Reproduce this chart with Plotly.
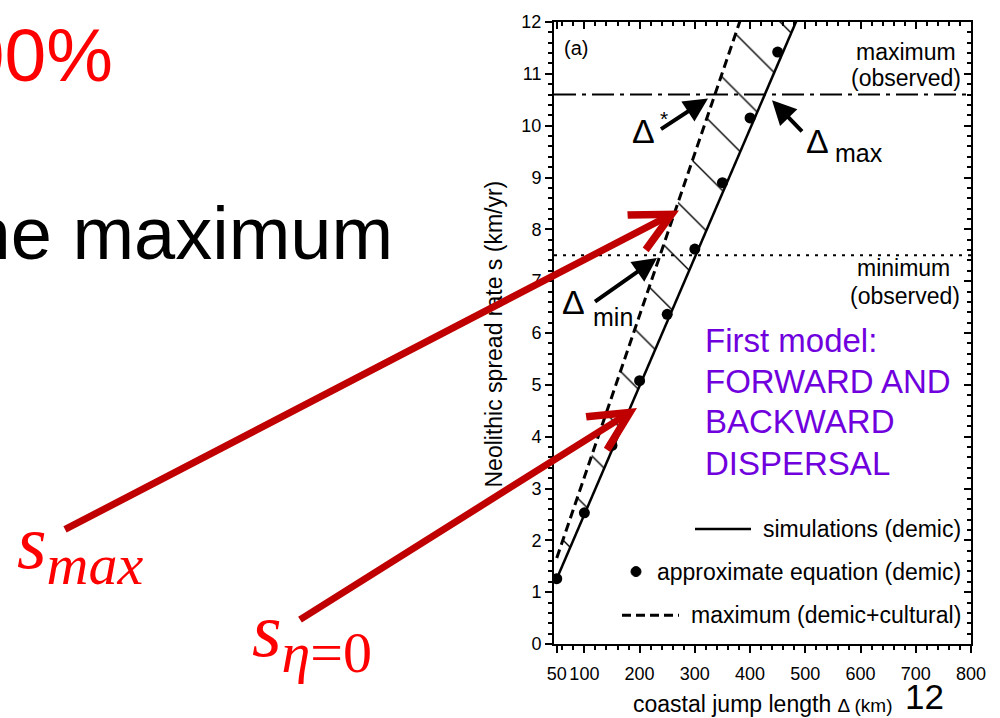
import plotly.graph_objects as go

# ---------------- data ----------------
sim_x = [50, 100, 150, 200, 250, 300, 350, 400, 450, 500]
sim_y = [1.26, 2.50, 3.74, 4.98, 6.22, 7.46, 8.70, 9.94, 11.18, 12.42]

approx_x = [50, 100, 150, 200, 250, 300, 350, 400, 450]
approx_y = [1.26, 2.53, 3.83, 5.08, 6.36, 7.62, 8.90, 10.15, 11.42]

max_x = [50, 100, 150, 200, 250, 300, 350, 400]
max_y = [1.66, 3.22, 4.78, 6.34, 7.91, 9.47, 11.03, 12.59]

obs_max = 10.6
obs_min = 7.5

x_range = [45, 800]
y_range = [0, 12]
x_tickvals = [50, 100, 200, 300, 400, 500, 600, 700, 800]
x_ticktext = ["50", "100", "200", "300", "400", "500", "600", "700", "800"]
y_tickvals = list(range(0, 13))

# ---------------- geometry helpers (pixel -> paper) ----------------
W, H = 1000, 718
L, R, T, B = 554, 971, 17, 644
def px(x):
    return (x - L) / (R - L)
def py(y):
    return (B - y) / (B - T)

FONT = "Liberation Sans, Arial, sans-serif"
SERIF = "Liberation Serif, Times New Roman, serif"
PURPLE = "#7000DD"
DARKRED = "#C00000"

fig = go.Figure()

# solid: simulations
fig.add_trace(go.Scatter(x=sim_x, y=sim_y, mode="lines",
                         line=dict(color="black", width=2.5),
                         showlegend=False, hoverinfo="skip"))
# dashed: maximum (demic+cultural), hatched region to the solid line
fig.add_trace(go.Scatter(x=max_x, y=max_y, mode="lines",
                         line=dict(color="black", width=3, dash="9px,5px"),
                         fill="tonexty", fillcolor="white",
                         fillpattern=dict(shape="\\", size=40, solidity=0.035,
                                          fgcolor="black", fgopacity=1, bgcolor="white"),
                         showlegend=False, hoverinfo="skip"))
# dots: approximate equation
fig.add_trace(go.Scatter(x=approx_x, y=approx_y, mode="markers",
                         marker=dict(color="black", size=11),
                         showlegend=False, hoverinfo="skip"))
# observed maximum / minimum
fig.add_trace(go.Scatter(x=x_range, y=[obs_max, obs_max], mode="lines",
                         line=dict(color="black", width=2, dash="22px,6px,4px,6px"),
                         showlegend=False, hoverinfo="skip"))
fig.add_trace(go.Scatter(x=x_range, y=[obs_min, obs_min], mode="lines",
                         line=dict(color="black", width=2, dash="3px,6px"),
                         showlegend=False, hoverinfo="skip"))
# invisible trace for the mirrored axes
fig.add_trace(go.Scatter(x=x_range, y=y_range, mode="markers", xaxis="x2", yaxis="y2",
                         marker=dict(opacity=0), showlegend=False, hoverinfo="skip"))

axis_common = dict(showline=True, linecolor="black", linewidth=2, showgrid=False,
                   zeroline=False, tickcolor="black", tickwidth=1.5)

fig.update_layout(
    width=W, height=H,
    margin=dict(l=L, r=W - R, t=T, b=H - B),
    paper_bgcolor="white", plot_bgcolor="white",
    font=dict(family=FONT, color="black", size=18),
    xaxis=dict(range=x_range, tickmode="array", tickvals=x_tickvals, ticktext=x_ticktext,
               ticks="outside", ticklen=7, ticklabelstandoff=5,
               tickfont=dict(size=18),
               minor=dict(tick0=0, dtick=20, ticks="outside", ticklen=4,
                          tickcolor="black", tickwidth=1.5),
               **axis_common),
    yaxis=dict(range=y_range, tickmode="array", tickvals=y_tickvals,
               ticks="outside", ticklen=7, tickfont=dict(size=18),
               minor=dict(tick0=0, dtick=0.2, ticks="outside", ticklen=4,
                          tickcolor="black", tickwidth=1.5),
               **axis_common),
    xaxis2=dict(range=x_range, overlaying="x", side="top", tickmode="array",
                tickvals=x_tickvals, showticklabels=False, ticks="inside", ticklen=7,
                minor=dict(tick0=0, dtick=20, ticks="inside", ticklen=4,
                           tickcolor="black", tickwidth=1.5),
                **axis_common),
    yaxis2=dict(range=y_range, overlaying="y", side="right", tickmode="array",
                tickvals=y_tickvals, showticklabels=False, ticks="inside", ticklen=7,
                minor=dict(tick0=0, dtick=0.2, ticks="inside", ticklen=4,
                           tickcolor="black", tickwidth=1.5),
                **axis_common),
)

ann = []
def text(x, y, s, size, color="black", xanchor="center", family=FONT, angle=0):
    ann.append(dict(x=px(x), y=py(y), xref="paper", yref="paper", text=s,
                    showarrow=False, xanchor=xanchor, yanchor="middle",
                    textangle=angle, font=dict(family=family, size=size, color=color)))

def arrow(tail, head, color, width, head_style, size):
    ann.append(dict(x=px(head[0]), y=py(head[1]), xref="paper", yref="paper",
                    ax=tail[0] - head[0], ay=tail[1] - head[1], axref="pixel", ayref="pixel",
                    text=" ", showarrow=True, arrowhead=head_style, arrowsize=size,
                    arrowwidth=width, arrowcolor=color, standoff=0,
                    font=dict(size=2)))

# slide text
text(115, 50, "100%", 75, color="red", xanchor="right")
text(395, 230, "the maximum", 74, xanchor="right")
text(924, 697, "12", 35)

# axis titles
text(494, 332, "Neolithic spread rate s (km/yr)", 23, angle=-90)
text(762, 704, "coastal jump length <span style='font-size:19px'>Δ (km)</span>", 23)

# in-plot labels
text(562, 43, "(a)", 20, xanchor="left")
text(906, 47, "maximum", 23)
text(906, 73, "(observed)", 23)
text(903, 265, "minimum", 23)
text(905, 293, "(observed)", 23)
text(703, 338, "First model:", 33, color=PURPLE, xanchor="left")
text(703, 379, "FORWARD AND", 33, color=PURPLE, xanchor="left")
text(703, 420, "BACKWARD", 33, color=PURPLE, xanchor="left")
text(703, 462, "DISPERSAL", 33, color=PURPLE, xanchor="left")

# delta labels
text(643, 127, "Δ", 34)
text(664, 114, "*", 21)
text(817, 137, "Δ", 34)
text(859, 149, "max", 25)
text(573, 299, "Δ", 34)
text(613, 314, "min", 25)

# legend (drawn by hand, right aligned)
text(963, 528, "simulations (demic)", 23, xanchor="right")
text(963, 571, "approximate equation (demic)", 23, xanchor="right")
text(963, 615, "maximum (demic+cultural)", 23, xanchor="right")

# black arrows
arrow((659, 126), (708, 94), "black", 4, 2, 1.2)
arrow((804, 129), (772, 96), "black", 4, 2, 1.2)
arrow((593, 300), (657, 255), "black", 4, 2, 1.2)

# red arrows and math labels
arrow((63, 527), (679, 207), DARKRED, 7, 5, 1.1)
arrow((298, 619), (637, 406), DARKRED, 7, 5, 1.1)
text(15, 548, "<i>s</i><sub><i><span style='font-size:58px'>max</span></i></sub>", 76,
     color="red", xanchor="left", family=SERIF)
text(250, 636, "<i>s</i><sub><i><span style='font-size:58px'>η</span></i>"
     "<span style='font-size:58px'>=0</span></sub>", 76,
     color="red", xanchor="left", family=SERIF)

fig.update_layout(annotations=ann)

# legend samples
shapes = [
    dict(type="line", xref="paper", yref="paper", x0=px(695), x1=px(751), y0=py(528), y1=py(528),
         line=dict(color="black", width=2.5)),
    dict(type="circle", xref="paper", yref="paper", x0=px(631), x1=px(641), y0=py(566), y1=py(576),
         fillcolor="black", line=dict(color="black", width=1)),
    dict(type="line", xref="paper", yref="paper", x0=px(622), x1=px(679), y0=py(615), y1=py(615),
         line=dict(color="black", width=3, dash="9px,5px")),
]
fig.update_layout(shapes=shapes)

fig.write_html("out.html")
